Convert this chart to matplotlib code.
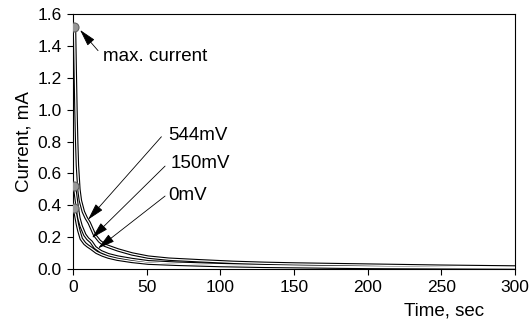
import matplotlib.pyplot as plt

plt.rcParams['font.family'] = ['Liberation Sans', 'DejaVu Sans']

# current decay after switching on, three bias voltages
t_544 = [1, 1.5, 2, 2.5, 3, 4, 5, 7, 9, 11, 14.7, 18, 21.5, 25, 30.5, 40, 51, 65, 86, 109, 130, 150, 200, 250, 300]
i_544 = [1.52, 1.25, 1.0, 0.8, 0.65, 0.5, 0.43, 0.36, 0.32, 0.29, 0.213, 0.175, 0.15, 0.138, 0.12, 0.095, 0.075, 0.062, 0.052, 0.042, 0.036, 0.032, 0.025, 0.018, 0.013]

t_150 = [1, 2, 3, 4, 5.5, 8, 10, 12.4, 15, 19, 24, 30.5, 40, 51, 70, 100, 130, 160, 200, 250, 300]
i_150 = [0.52, 0.45, 0.38, 0.32, 0.27, 0.215, 0.19, 0.17, 0.135, 0.109, 0.09, 0.075, 0.06, 0.046, 0.037, 0.028, 0.022, 0.018, 0.014, 0.011, 0.009]

t_0 = [1, 2, 3, 4, 5.6, 8, 10, 12.4, 16, 20, 24, 30, 40, 51, 70, 100, 130, 160, 200, 250, 300]
i_0 = [0.38, 0.33, 0.28, 0.24, 0.19, 0.16, 0.145, 0.13, 0.105, 0.088, 0.075, 0.062, 0.048, 0.037, 0.03, 0.022, 0.017, 0.014, 0.01, 0.008, 0.007]

start_t = [1, 1, 1]
start_i = [1.52, 0.52, 0.38]

fs = 13.5

fig = plt.figure(figsize=(5.29, 3.33), dpi=100)
ax = fig.add_axes([0.138, 0.192, 0.8355, 0.766])

for t, i in [(t_0, i_0), (t_150, i_150), (t_544, i_544)]:
    ax.plot(t, i, color='black', lw=2.5, zorder=2)
    ax.plot(t, i, color='white', lw=0.9, zorder=3)

ax.plot(start_t, start_i, 'o', ms=6.5, mfc='#989898', mec='#606060', mew=0.8, zorder=5)

arr = dict(arrowstyle='-|>,head_length=0.75,head_width=0.2', color='black', lw=0.6,
           mutation_scale=14, shrinkA=0, shrinkB=0)
ax.annotate('max. current', xy=(4.8, 1.5), xytext=(20.4, 1.336), fontsize=fs,
            va='center', ha='left')
ax.annotate('', xy=(4.8, 1.5), xytext=(17, 1.37), arrowprops=arr)
ax.annotate('544mV', xy=(10.2, 0.31), xytext=(64.5, 0.84), fontsize=fs, va='center', ha='left')
ax.annotate('', xy=(10.2, 0.31), xytext=(60, 0.83), arrowprops=arr)
ax.annotate('150mV', xy=(12.9, 0.195), xytext=(66, 0.665), fontsize=fs, va='center', ha='left')
ax.annotate('', xy=(12.9, 0.195), xytext=(62.5, 0.646), arrowprops=arr)
ax.annotate('0mV', xy=(17, 0.13), xytext=(64.5, 0.46), fontsize=fs, va='center', ha='left')
ax.annotate('', xy=(17, 0.13), xytext=(62.5, 0.458), arrowprops=arr)

ax.set_xlim(0, 300)
ax.set_ylim(0, 1.6)
ax.set_xticks(range(0, 301, 50))
ax.set_yticks([0.0, 0.2, 0.4, 0.6, 0.8, 1.0, 1.2, 1.4, 1.6])
ax.set_yticklabels(['0.0', '0.2', '0.4', '0.6', '0.8', '1.0', '1.2', '1.4', '1.6'])
ax.tick_params(direction='out', length=4, width=0.8, labelsize=12.5, pad=4)
for s in ax.spines.values():
    s.set_linewidth(0.8)

ax.set_ylabel('Current, mA', fontsize=fs, labelpad=4)
ax.set_xlabel('Time, sec', fontsize=fs, labelpad=4)
ax.xaxis.set_label_coords(0.84, -0.13)

fig.savefig('out.png', dpi=100)
